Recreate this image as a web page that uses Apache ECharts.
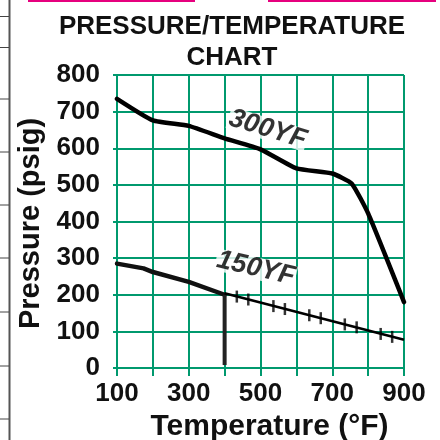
<!DOCTYPE html>
<html>
<head>
<meta charset="utf-8">
<script src="https://cdn.jsdelivr.net/npm/echarts@6/dist/echarts.min.js"></script>
<style>
  html, body { margin: 0; padding: 0; background: #fff; }
  #chart { width: 440px; height: 440px; }
</style>
</head>
<body>
<div id="chart"></div>
<script>
// data (temperature °F, pressure psig)
var yf300 = [[100, 735], [200, 676], [300, 661], [400, 627], [500, 597], [600, 545], [700, 531], [754, 504], [800, 422], [900, 180]];
var yf150Solid = [[100, 285], [174, 272], [200, 262], [300, 235], [400, 200]];
var yf150Drop = [[400, 200], [400, 8]];
var yf150Thin = [[400, 204], [900, 77]];
var yf150Ticks = [[434, 195], [466, 187], [536, 169], [568, 161], [636, 144], [668, 136], [735, 119], [768, 111], [835, 93], [867, 85]];
var curveLabels = [
  { name: '300YF', value: [520, 652], rot: -17 },
  { name: '150YF', value: [487, 272], rot: -13 }
];
var xLabelTicks = [100, 300, 500, 700, 900];

var green = '#00996e';
var font = '"Liberation Sans", Arial, sans-serif';

var chart = echarts.init(document.getElementById('chart'));

// bits of the page round the chart (cut-off table rules)
var leftRules = [16.5, 47.5, 99, 152, 205, 258, 312, 366, 419];
var decor = [
  { type: 'rect', shape: { x: 28, y: 0, width: 167, height: 2 }, style: { fill: '#e6007e' } },
  { type: 'rect', shape: { x: 268, y: 0, width: 168, height: 2 }, style: { fill: '#e6007e' } },
  { type: 'line', shape: { x1: 9.5, y1: 0, x2: 9.5, y2: 440 }, style: { stroke: '#555', lineWidth: 2 } }
];
leftRules.forEach(function (y) {
  decor.push({ type: 'line', shape: { x1: 0, y1: y, x2: 9, y2: y }, style: { stroke: '#444', lineWidth: 1 } });
});

var option = {
  animation: false,
  title: {
    text: 'PRESSURE/TEMPERATURE\nCHART',
    left: 227,
    top: 6,
    textAlign: 'center',
    textStyle: { fontFamily: font, fontSize: 26, fontWeight: 'bold', color: '#111', lineHeight: 31 }
  },
  grid: { left: 117, top: 75, width: 287, height: 293, containLabel: false, outerBoundsMode: 'none' },
  xAxis: {
    type: 'value',
    min: 100, max: 900, interval: 100,
    name: 'Temperature (°F)',
    nameLocation: 'middle',
    nameGap: 42,
    nameTextStyle: { fontFamily: font, fontSize: 30, fontWeight: 'bold', color: '#111', padding: [0, 0, 0, 18] },
    axisLine: { lineStyle: { color: green, width: 2 } },
    axisTick: { length: 8, lineStyle: { color: green, width: 2 } },
    splitLine: { show: true, lineStyle: { color: green, width: 2 } },
    axisLabel: {
      margin: 13,
      fontFamily: font, fontSize: 26, fontWeight: 'bold', color: '#111',
      formatter: function (v) { return xLabelTicks.indexOf(v) >= 0 ? String(v) : ''; }
    }
  },
  yAxis: {
    type: 'value',
    min: 0, max: 800, interval: 100,
    name: 'Pressure (psig)',
    nameLocation: 'middle',
    nameGap: 66,
    nameTextStyle: { fontFamily: font, fontSize: 29, fontWeight: 'bold', color: '#111', padding: [0, 4, 0, 0] },
    axisLine: { show: true, lineStyle: { color: green, width: 2 } },
    axisTick: { show: true, length: 4, lineStyle: { color: green, width: 2 } },
    splitLine: { show: true, lineStyle: { color: green, width: 2 } },
    axisLabel: { margin: 17, fontFamily: font, fontSize: 26, fontWeight: 'bold', color: '#111' }
  },
  series: [
    {
      name: '300YF', type: 'line', data: yf300, smooth: 0.15, symbol: 'none',
      lineStyle: { color: '#000', width: 4.5, cap: 'round', join: 'round' }
    },
    {
      name: '150YF', type: 'line', data: yf150Solid, symbol: 'none',
      lineStyle: { color: '#111', width: 4.5, cap: 'round', join: 'round' }
    },
    {
      name: '150YF drop', type: 'line', data: yf150Drop, symbol: 'none',
      lineStyle: { color: '#222', width: 4 }
    },
    {
      name: '150YF thin', type: 'line', data: yf150Thin, symbol: 'none',
      lineStyle: { color: '#000', width: 2.5 }
    },
    {
      name: 'ticks', type: 'scatter', data: yf150Ticks,
      symbol: 'rect', symbolSize: [2.5, 12],
      itemStyle: { color: '#000' }
    },
    {
      name: 'labels', type: 'scatter', symbolSize: 0,
      data: curveLabels.map(function (d) {
        return { name: d.name, value: d.value, label: { rotate: d.rot } };
      }),
      label: {
        show: true, position: 'inside', formatter: '{b}',
        fontFamily: font, fontSize: 27, fontStyle: 'italic', fontWeight: 'bold', color: '#000',
        lineHeight: 22, backgroundColor: '#fff', padding: [0, 1]
      }
    }
  ],
  graphic: decor
};

chart.setOption(option);
</script>
</body>
</html>
